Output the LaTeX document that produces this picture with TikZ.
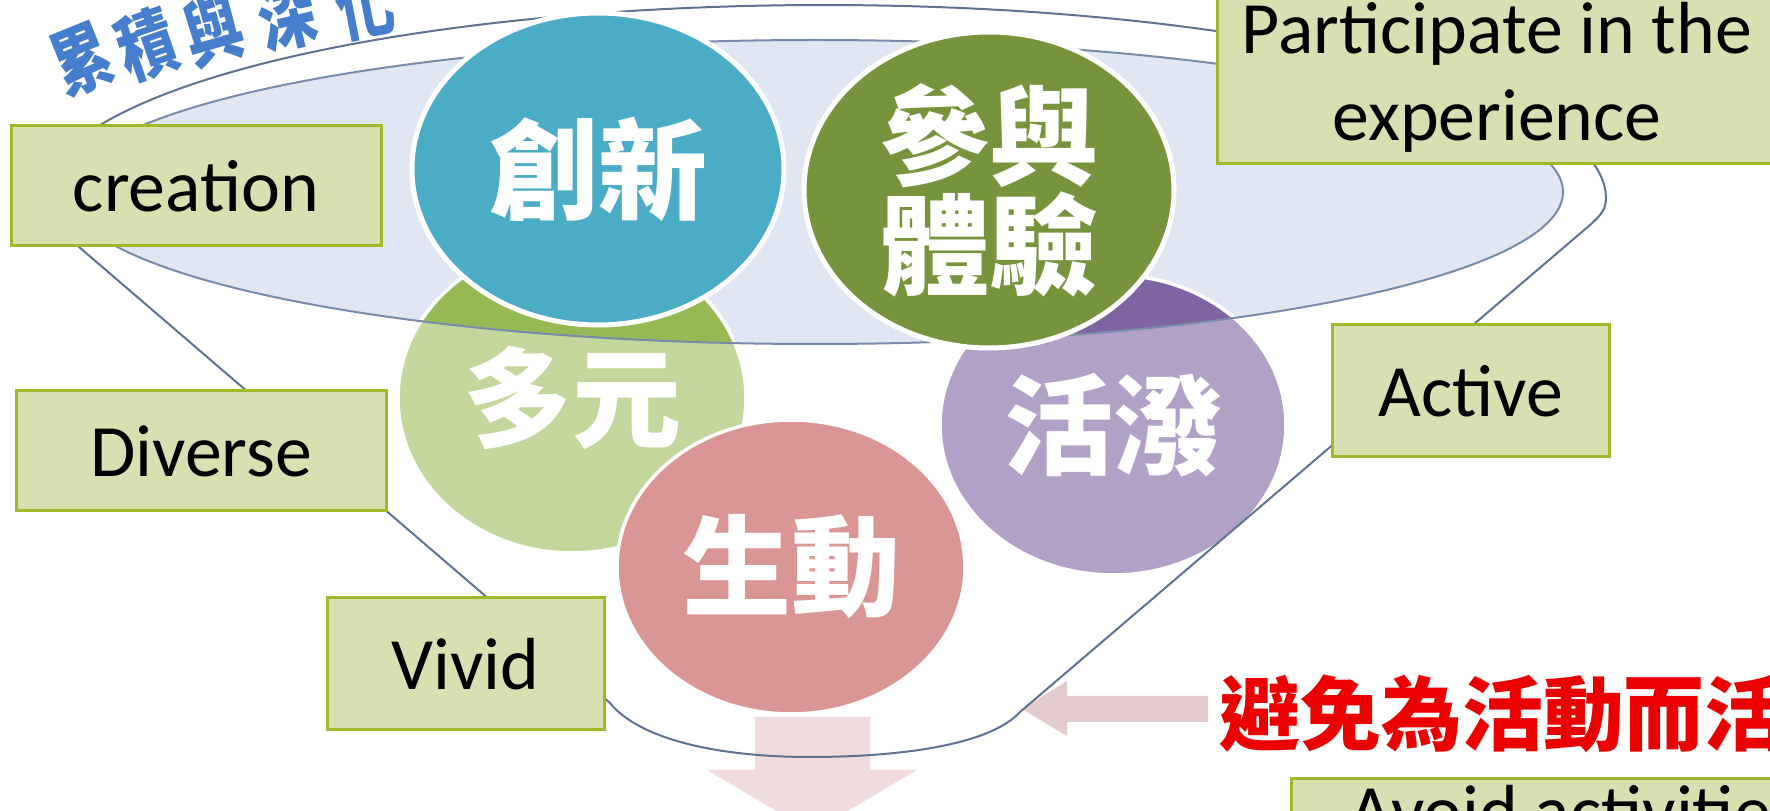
\documentclass[tikz,border=0pt]{standalone}
\usepackage{fontspec}
\setmainfont{Carlito}
\newfontfamily\cjk{Noto Sans CJK TC}
\usetikzlibrary{shapes.geometric}
\definecolor{lblfill}{RGB}{216,224,178}
\definecolor{lbldraw}{RGB}{160,185,40}
\definecolor{aqua}{RGB}{75,172,198}
\definecolor{olivedk}{RGB}{119,147,60}
\definecolor{olivelt}{RGB}{195,214,155}
\definecolor{olivemd}{RGB}{150,185,85}
\definecolor{purplelt}{RGB}{178,161,199}
\definecolor{purplemd}{RGB}{128,100,162}
\definecolor{pinklt}{RGB}{217,150,148}
\definecolor{lidfill}{RGB}{224,231,242}
\definecolor{lidline}{RGB}{120,140,170}
\definecolor{funline}{RGB}{95,115,145}
\definecolor{arrowpink}{RGB}{228,203,206}
\definecolor{arrowpale}{RGB}{240,220,222}
\definecolor{titleblue}{RGB}{70,125,205}
\definecolor{warnred}{RGB}{235,0,0}
\newcommand{\narrowch}[1]{\scalebox{0.78}[1]{#1}}
\begin{document}
\begin{tikzpicture}[x=0.1mm,y=-0.1mm,
  lbl/.style={draw=lbldraw, fill=lblfill, line width=0.3mm, inner sep=0pt,
    font=\fontsize{21}{24.7}\selectfont, align=center},
  bubble/.style={ellipse, draw=white, inner sep=0pt, text=white,
    font=\cjk\bfseries\fontsize{31}{28}\selectfont, align=center},
  titlech/.style={inner sep=0pt, text=titleblue, font=\cjk\bfseries\fontsize{21}{21}\selectfont},
  funnel/.style={draw=funline, line width=0.2mm}
]
\useasboundingbox (0,0) rectangle (1770,811);
\clip (0,0) rectangle (1770,811);
\fill[white] (0,0) rectangle (1770,811);

% lid of the funnel
\node[ellipse, fill=lidfill, minimum width=149.6mm, minimum height=30.4mm, inner sep=0pt] (lid) at (815,192) {};

% lower circles
\node[bubble, line width=0.35mm, fill=olivelt, minimum width=34.8mm, minimum height=31mm] (duoyuan) at (572,398) {\raisebox{-0.7mm}{多元}};
\node[bubble, line width=0.35mm, fill=purplelt, minimum width=34.6mm, minimum height=30mm] (huopo) at (1113,425) {活潑};
\node[bubble, line width=0.35mm, fill=pinklt, minimum width=34.8mm, minimum height=29.4mm] (shengdong) at (791,567) {生動};

% darker parts of the lower circles inside the lid
\begin{scope}
  \clip (lid.center) ellipse [x radius=748, y radius=152];
  \filldraw[fill=olivemd, draw=white, line width=0.35mm] (duoyuan.center) ellipse [x radius=174, y radius=155];
  \filldraw[fill=purplemd, draw=white, line width=0.35mm] (huopo.center) ellipse [x radius=173, y radius=150];
\end{scope}
\draw[draw=lidline, line width=0.2mm] (lid.center) ellipse [x radius=748, y radius=152];

% arrows
\fill[arrowpink] (1022,709) -- (1067,681) -- (1067,696) -- (1208,696) -- (1208,722) -- (1067,722) -- (1067,736) -- cycle;
\fill[arrowpale] (755,717) -- (870,717) -- (870,770) -- (917,770) -- (812,832) -- (707,770) -- (755,770) -- cycle;

% funnel outline
\draw[funnel] (1020,712) -- (1590,225) .. controls (1600,216) and (1606,210) .. (1606,198)
  -- plot[domain=0:180, samples=100] ({824+782*cos(\x)},{198-193*sin(\x)})
  -- (22,198) -- (610,703) .. controls (640,740) and (720,757) .. (810,757)
  .. controls (900,757) and (990,745) .. (1020,712);

% upper circles
\node[bubble, line width=0.5mm, fill=aqua, minimum width=37.2mm, minimum height=31.2mm] (chuangxin) at (598,169) {\raisebox{0.7mm}{創新}};
\node[bubble, line width=0.5mm, fill=olivedk, minimum width=37mm, minimum height=31.6mm] (canyu) at (989,190) {參與\\體驗};

% labels
\node[lbl, minimum width=37mm, minimum height=12mm] (creation) at (196,186) {creation};
\node[lbl, minimum width=37mm, minimum height=12mm] (diverse) at (201,451) {Diverse};
\node[lbl, minimum width=27.7mm, minimum height=13.2mm] (vivid) at (465.5,664) {Vivid};
\node[lbl, minimum width=27.7mm, minimum height=13.2mm] (active) at (1470.5,391) {Active};
\node[lbl, minimum width=56mm, minimum height=17.4mm] (particip) at (1497,77) {Participate in the\\experience};
\node[lbl, minimum width=51mm, minimum height=12mm, anchor=north west] (avoidbox) at (1290,777) {};
\node[anchor=base west, inner sep=0pt, font=\fontsize{21}{24.7}\selectfont] (avoidtxt) at (1349,837) {Avoid activities};

% curved title
\node[titlech, rotate=22] (t1) at (82,60) {\narrowch{累}};
\node[titlech, rotate=19] (t2) at (147,45) {\narrowch{積}};
\node[titlech, rotate=16] (t3) at (213,31) {\narrowch{與}};
\node[titlech, rotate=13] (t4) at (287,17) {\narrowch{深}};
\node[titlech, rotate=11] (t5) at (364,5) {\narrowch{化}};

% red warning
\node[anchor=west, inner sep=0pt, text=warnred, font=\cjk\bfseries\fontsize{23}{23}\selectfont] (warn) at (1219,714) {避免為活動而活動};
\end{tikzpicture}
\end{document}
